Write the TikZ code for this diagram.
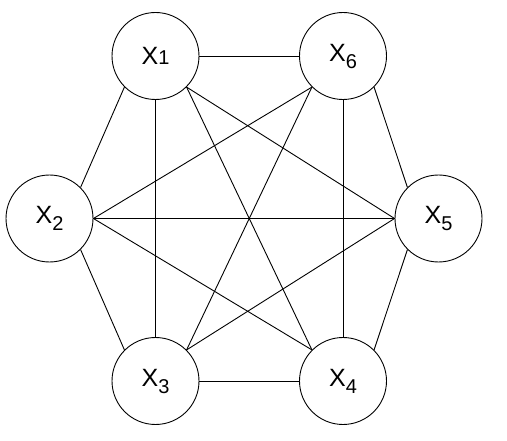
\documentclass[tikz,border=0pt]{standalone}
\usepackage{fontspec}
\setmainfont{Liberation Sans}
\newcommand{\varsub}[1]{\raisebox{-7pt}{\fontsize{20}{20}\selectfont #1}}
\begin{document}
\begin{tikzpicture}[
    x=1pt, y=1pt,
    var/.style={circle, draw, line width=0.9pt, minimum size=87pt, inner sep=0pt, font=\fontsize{25}{25}\selectfont},
    edge/.style={line width=0.9pt}
]
    \useasboundingbox (0,0) rectangle (507,440);
    \node[var] (x1) at (155.5,384) {X{\fontsize{20}{20}\selectfont 1}};
    \node[var] (x6) at (343,384) {X\varsub{6}};
    \node[var] (x2) at (49.5,221.5) {X\varsub{2}};
    \node[var] (x5) at (438.5,221.5) {X\varsub{5}};
    \node[var] (x3) at (155.5,59) {X\varsub{3}};
    \node[var] (x4) at (343,59) {X\varsub{4}};

    \draw[edge] (x1.east) -- (x6.west);
    \draw[edge] (x1.south west) -- (x2.north east);
    \draw[edge] (x1.south) -- (x3.north);
    \draw[edge] (x1.south east) -- (x4.north west);
    \draw[edge] (x1.south east) -- (x5.west);
    \draw[edge] (x6.south west) -- (x2.east);
    \draw[edge] (x6.south west) -- (x3.north east);
    \draw[edge] (x6.south) -- (x4.north);
    \draw[edge] (x6.south east) -- (x5.north west);
    \draw[edge] (x2.east) -- (x5.west);
    \draw[edge] (x2.east) -- (x4.north west);
    \draw[edge] (x2.south east) -- (x3.north west);
    \draw[edge] (x3.north east) -- (x5.west);
    \draw[edge] (x3.east) -- (x4.west);
    \draw[edge] (x4.north east) -- (x5.south west);
\end{tikzpicture}
\end{document}
